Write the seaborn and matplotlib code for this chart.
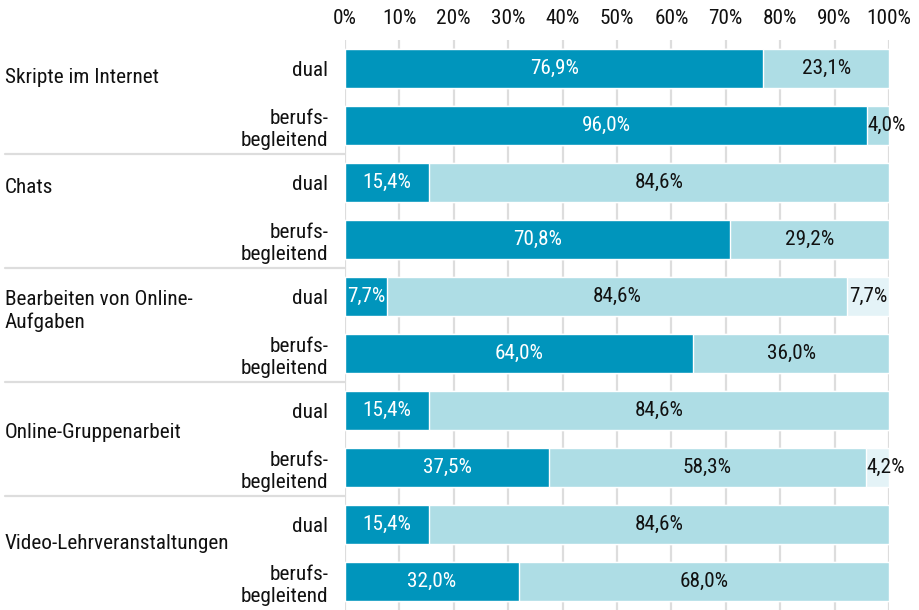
import pandas as pd
import matplotlib.pyplot as plt
import matplotlib.transforms as mtransforms
import seaborn as sns

# Data
groups = ['Skripte im Internet', 'Chats', 'Bearbeiten von Online-\nAufgaben',
          'Online-Gruppenarbeit', 'Video-Lehrveranstaltungen']
sub_labels = ['dual', 'berufs-\nbegleitend']
series1 = [76.9, 96.0, 15.4, 70.8, 7.7, 64.0, 15.4, 37.5, 15.4, 32.0]
series2 = [23.1, 4.0, 84.6, 29.2, 84.6, 36.0, 84.6, 58.3, 84.6, 68.0]
series3 = [0, 0, 0, 0, 7.7, 0, 0, 4.2, 0, 0]
ticks = [0, 10, 20, 30, 40, 50, 60, 70, 80, 90, 100]

colors = ['#0095BC', '#AEDDE5', '#E4F3F7']
text_colors = ['white', '#111111', '#111111']
FS = 15.3

sns.set_style('white')
plt.rcParams['font.family'] = ['Roboto Condensed', 'DejaVu Sans']

bar_ids = [f'b{i}' for i in range(len(series1))]
df = pd.DataFrame({'bar': bar_ids, 's1': series1, 's2': series2, 's3': series3})
df['c1'] = df['s1']
df['c2'] = df['s1'] + df['s2']
df['c3'] = df['c2'] + df['s3']

fig = plt.figure(figsize=(9.19, 6.10), dpi=100)
ax = fig.add_axes([345 / 919, 0.0, (889 - 345) / 919, 1 - 40 / 610])

# stacked bars: draw cumulative totals from widest to narrowest
for col, c in zip(['c3', 'c2', 'c1'], colors[::-1]):
    sns.barplot(data=df, x=col, y='bar', order=bar_ids, orient='h', color=c,
                width=0.67, saturation=1, ax=ax, zorder=3)

ax.set_xlim(0, 100)
ax.set_ylim(len(bar_ids) - 0.5, -0.5)
ax.set_xticks(ticks)
ax.set_xticklabels([f'{t}%' for t in ticks], fontsize=FS, color='#111111')
ax.xaxis.tick_top()
ax.tick_params(axis='x', length=0, pad=9)
ax.set_yticks(range(len(bar_ids)))
ax.set_yticklabels(sub_labels * len(groups), fontsize=FS, ha='right',
                   linespacing=1.2, color='#111111')
ax.tick_params(axis='y', length=0, pad=12)
ax.set_xlabel('')
ax.set_ylabel('')
for s in ax.spines.values():
    s.set_visible(False)
for t in ticks:
    ax.axvline(t, color='#DDDDDD', lw=1.6, zorder=1)

# segment labels
fig.canvas.draw()
renderer = fig.canvas.get_renderer()
px_per_unit = ax.transData.transform((1, 0))[0] - ax.transData.transform((0, 0))[0]
for i, row in df.iterrows():
    starts = [0, row['c1'], row['c2']]
    vals = [row['s1'], row['s2'], row['s3']]
    for k in range(3):
        v = vals[k]
        if v <= 0:
            continue
        label = f'{v:.1f}'.replace('.', ',') + '%'
        txt = ax.text(starts[k] + v / 2, i, label, ha='center', va='center',
                      fontsize=FS, color=text_colors[k], zorder=5)
        w = txt.get_window_extent(renderer).width
        if w > v * px_per_unit:
            txt.set_ha('left')
            txt.set_x(starts[k] + 0.1)

# group labels and separators
trans = mtransforms.blended_transform_factory(fig.transFigure, ax.transData)
label_y = [0.15, 2.08, 4.25, 6.39, 8.33]
for name, y in zip(groups, label_y):
    ax.text(5 / 919, y, name, transform=trans, ha='left', va='center',
            fontsize=FS, color='#111111', linespacing=1.2)
for b in [1.5, 3.5, 5.5, 7.5]:
    ax.plot([5 / 919, 345 / 919], [b, b], transform=trans, color='#DDDDDD',
            lw=1.6, clip_on=False)

fig.savefig('out.png', dpi=100)
